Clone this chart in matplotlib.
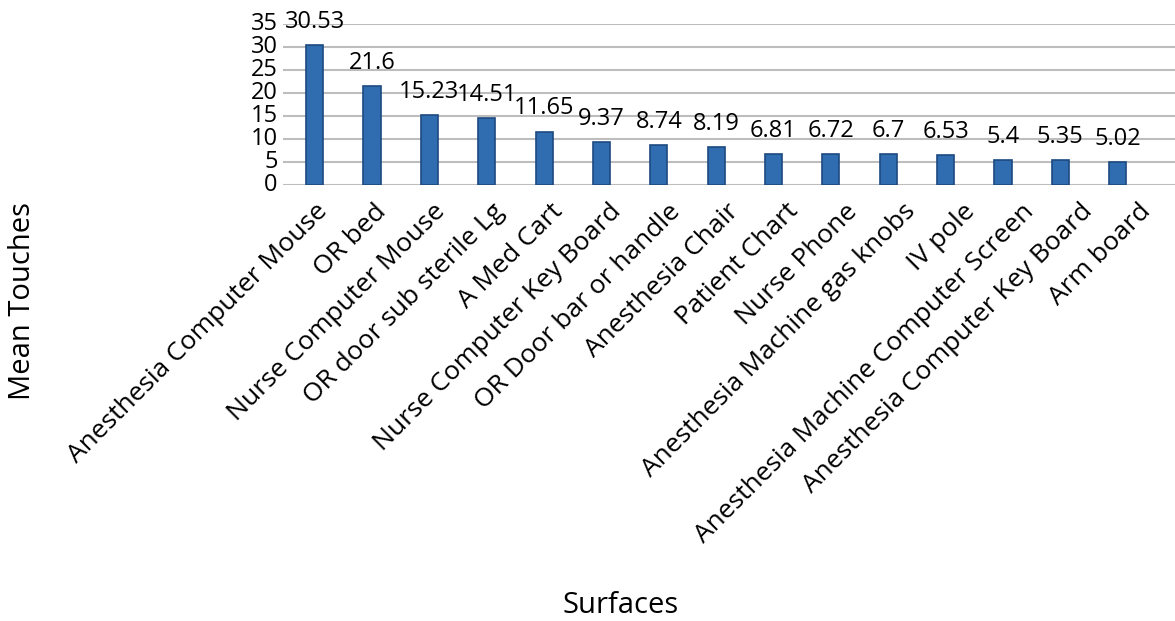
import matplotlib.pyplot as plt
from matplotlib.transforms import ScaledTranslation

surfaces = ['Anesthesia Computer Mouse', 'OR bed', 'Nurse Computer Mouse',
            'OR door sub sterile Lg', 'A Med Cart', 'Nurse Computer Key Board',
            'OR Door bar or handle', 'Anesthesia Chair', 'Patient Chart',
            'Nurse Phone', 'Anesthesia Machine gas knobs', 'IV pole',
            'Anesthesia Machine Computer Screen', 'Anesthesia Computer Key Board',
            'Arm board']
touches = [30.53, 21.6, 15.23, 14.51, 11.65, 9.37, 8.74, 8.19, 6.81,
           6.72, 6.7, 6.53, 5.4, 5.35, 5.02]
labels = ['30.53', '21.6', '15.23', '14.51', '11.65', '9.37', '8.74', '8.19',
          '6.81', '6.72', '6.7', '6.53', '5.4', '5.35', '5.02']

plt.rcParams['font.family'] = ['Open Sans', 'DejaVu Sans']

fig = plt.figure(figsize=(11.75, 6.21), dpi=100)
ax = fig.add_axes([0.241, 0.702, 0.759, 0.259])

x = list(range(len(surfaces)))
ax.bar(x, touches, width=0.3, color='#2f6db0', edgecolor='#1d4a80',
       linewidth=1.2, zorder=3)

for xi, v, t in zip(x, touches, labels):
    ax.annotate(t, (xi, v), xytext=(0, 8), textcoords='offset points',
                ha='center', va='bottom', fontsize=17)

ax.set_ylim(0, 35)
ax.set_yticks(range(0, 36, 5))
ax.set_xlim(-0.55, 15.0)
ax.grid(axis='y', color='#bdbdbd', linewidth=1.5, zorder=0)
for s in ax.spines.values():
    s.set_visible(False)
ax.tick_params(axis='y', length=0, labelsize=17, pad=4)
ax.tick_params(axis='x', length=0, pad=10)
ax.set_xticks(x)
ax.set_xticklabels(surfaces, rotation=45, ha='right', rotation_mode='anchor',
                   fontsize=19)
for t in ax.get_yticklabels():
    t.set_verticalalignment('center')

# category labels in the source drift slightly right of their bars
for i, t in enumerate(ax.get_xticklabels()):
    t.set_transform(t.get_transform() +
                    ScaledTranslation(1.5 * i / 100, 0, fig.dpi_scale_trans))

fig.text(0.019, 0.515, 'Mean Touches', rotation=90, ha='center', va='center',
         fontsize=21)
fig.text(0.528, 0.025, 'Surfaces', ha='center', va='center', fontsize=21)

fig.savefig('out.png', dpi=100)
